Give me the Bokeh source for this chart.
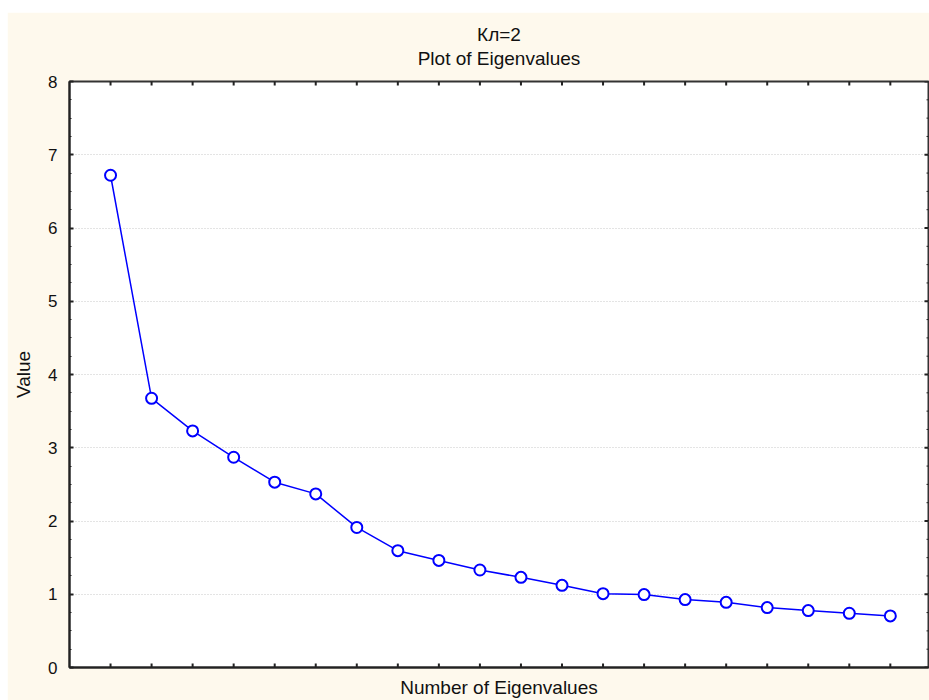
from bokeh.plotting import figure
from bokeh.models import FixedTicker, LinearAxis, Title, ColumnDataSource
from bokeh.embed import file_html
from bokeh.resources import INLINE
import math

# data
component = list(range(1, 21))
eigenvalues = [6.72, 3.675, 3.23, 2.87, 2.53, 2.37, 1.912, 1.595, 1.462, 1.331,
               1.231, 1.122, 1.008, 0.995, 0.927, 0.89, 0.818, 0.777, 0.74, 0.704]
y_ticks = [0, 1, 2, 3, 4, 5, 6, 7, 8]
title_line1 = "Кл=2"
title_line2 = "Plot of Eigenvalues"
x_label = "Number of Eigenvalues"
y_label = "Value"

X_START, X_END = 0, 20.93
Y_START, Y_END = 0, 8
FONT = "Liberation Sans"
CREAM = "#FEF9ED"
TICK = "#222222"

src = ColumnDataSource(dict(x=component, y=eigenvalues))
minor_y = [i / 4 for i in range(0, 33) if i % 4 != 0]

p = figure(width=922, height=688, x_range=(X_START, X_END), y_range=(Y_START, Y_END),
           output_backend="svg", toolbar_location=None,
           min_border_left=62, min_border_right=1, min_border_top=69, min_border_bottom=32,
           x_axis_location=None, y_axis_location=None, margin=(12, 0, 0, 7))
p.title.visible = False
p.border_fill_color = CREAM
p.background_fill_color = "white"
p.outline_line_color = "#333333"
p.outline_line_width = 2

left = LinearAxis(axis_label=y_label)
left.ticker = FixedTicker(ticks=y_ticks, minor_ticks=minor_y)
left.major_tick_in = 4
left.major_tick_out = 0
left.minor_tick_in = 2
left.minor_tick_out = 0
left.axis_line_color = TICK
left.axis_line_width = 2
left.major_tick_line_color = TICK
left.major_tick_line_width = 2
left.minor_tick_line_color = TICK
left.minor_tick_line_width = 1
left.major_label_text_font = FONT
left.major_label_text_font_size = "17px"
left.major_label_text_color = "#111111"
left.major_label_standoff = 12
left.axis_label_text_font = FONT
left.axis_label_text_font_size = "19px"
left.axis_label_text_font_style = "normal"
left.axis_label_text_color = "#111111"
left.axis_label_standoff = 11
p.add_layout(left, "left")

bottom = LinearAxis(axis_label=x_label)
bottom.ticker = FixedTicker(ticks=[])
bottom.axis_line_color = TICK
bottom.axis_line_width = 2
bottom.axis_label_text_font = FONT
bottom.axis_label_text_font_size = "19px"
bottom.axis_label_text_font_style = "normal"
bottom.axis_label_text_color = "#111111"
bottom.axis_label_standoff = 9
p.add_layout(bottom, "below")

p.xgrid.visible = False
p.ygrid.ticker = FixedTicker(ticks=y_ticks)
p.ygrid.grid_line_color = "#C8C8C8"
p.ygrid.grid_line_dash = "1 2"
p.ygrid.grid_line_width = 1

t2 = Title(text=title_line2, align="center", text_font=FONT, text_font_size="19px",
           text_font_style="normal", text_color="#111111", standoff=25)
p.add_layout(t2, "above")
t1 = Title(text=title_line1, align="center", text_font=FONT, text_font_size="19px",
           text_font_style="normal", text_color="#111111", standoff=-22)
p.add_layout(t1, "above")

# inward ticks on the bottom, top and right frame edges (outer half clipped by the frame)
n = len(component)
p.scatter(component, [Y_START] * n, marker="dash", size=8, angle=math.pi / 2,
          line_color=TICK, line_width=2)
p.scatter(component, [Y_END] * n, marker="dash", size=8, angle=math.pi / 2,
          line_color=TICK, line_width=2)
p.scatter([X_END] * len(y_ticks), y_ticks, marker="dash", size=8,
          line_color=TICK, line_width=2)
p.scatter([X_END] * len(minor_y), minor_y, marker="dash", size=4,
          line_color=TICK, line_width=1)

p.line("x", "y", source=src, line_color="#0000FF", line_width=1.5)
p.scatter("x", "y", source=src, marker="circle", size=11, fill_color="white",
          line_color="#0000FF", line_width=2)

open("out.html", "w").write(file_html(p, INLINE))
